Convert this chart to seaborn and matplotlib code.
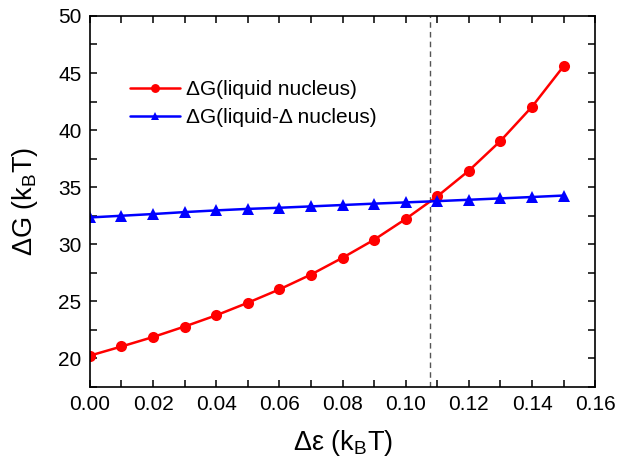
import numpy as np
import pandas as pd
import matplotlib
matplotlib.use("Agg")
import matplotlib.pyplot as plt
import seaborn as sns

# Data
d_eps = [0.00, 0.01, 0.02, 0.03, 0.04, 0.05, 0.06, 0.07, 0.08, 0.09, 0.10, 0.11, 0.12, 0.13, 0.14, 0.15]
dg_liquid = [20.25, 21.05, 21.88, 22.8, 23.78, 24.88, 26.05, 27.35, 28.82, 30.4, 32.22, 34.2, 36.45, 39.05, 42.05, 45.6]
dg_liquid_delta = [32.35, 32.5, 32.65, 32.82, 32.97, 33.1, 33.2, 33.32, 33.44, 33.56, 33.67, 33.78, 33.9, 34.02, 34.14, 34.27]
crossing_x = 0.1078
series_names = ["ΔG(liquid nucleus)", "ΔG(liquid-Δ nucleus)"]

df = pd.DataFrame({
    "x": d_eps * 2,
    "y": dg_liquid + dg_liquid_delta,
    "series": [series_names[0]] * len(d_eps) + [series_names[1]] * len(d_eps),
})

sns.set_style("ticks")
plt.rcParams["font.family"] = ["Liberation Sans", "DejaVu Sans"]
plt.rcParams["mathtext.fontset"] = "custom"
plt.rcParams["mathtext.rm"] = "Liberation Sans"
plt.rcParams["mathtext.it"] = "Liberation Sans:italic"
plt.rcParams["text.color"] = "black"
plt.rcParams["axes.labelcolor"] = "black"

fig = plt.figure(figsize=(6.2, 4.68), dpi=100)
ax = fig.add_axes([0.145, 0.173, 0.815, 0.793])

sns.lineplot(data=df, x="x", y="y", hue="series", style="series",
             markers={series_names[0]: "o", series_names[1]: "^"},
             dashes=False, palette={series_names[0]: "#ff0000", series_names[1]: "#0000ff"},
             markersize=8, markeredgewidth=0, linewidth=1.8, ax=ax)

ax.axvline(crossing_x, color="#555555", linestyle=(0, (4, 3)), linewidth=1.0, zorder=0)

ax.set_xlim(0.0, 0.16)
ax.set_ylim(17.5, 50)
ax.set_xticks(np.arange(0, 0.161, 0.02))
ax.set_xticks(np.arange(0, 0.161, 0.01), minor=True)
ax.set_yticks([20, 25, 30, 35, 40, 45, 50])
ax.set_yticks(np.arange(17.5, 50.1, 2.5), minor=True)
ax.xaxis.set_major_formatter(matplotlib.ticker.FormatStrFormatter("%.2f"))

for which in ("major", "minor"):
    ax.tick_params(axis="both", which=which, direction="in", length=5, width=1.1,
                   top=True, right=True, color="black")
ax.tick_params(axis="both", which="major", labelsize=15, pad=6, labelcolor="black")
for s in ax.spines.values():
    s.set_linewidth(1.2)
    s.set_color("black")

ax.set_xlabel(r"Δε (k$_\mathrm{B}$T)", fontsize=19.5, labelpad=10, color="black")
ax.set_ylabel(r"ΔG (k$_\mathrm{B}$T)", fontsize=19.5, labelpad=13, color="black")

leg = ax.legend(loc="upper left", bbox_to_anchor=(0.055, 0.86), frameon=False,
                fontsize=15, handlelength=2.4, handletextpad=0.3, labelspacing=0.42,
                markerscale=0.8, borderaxespad=0.2)
for t in leg.get_texts():
    t.set_color("black")

fig.savefig("out.png", dpi=100)
